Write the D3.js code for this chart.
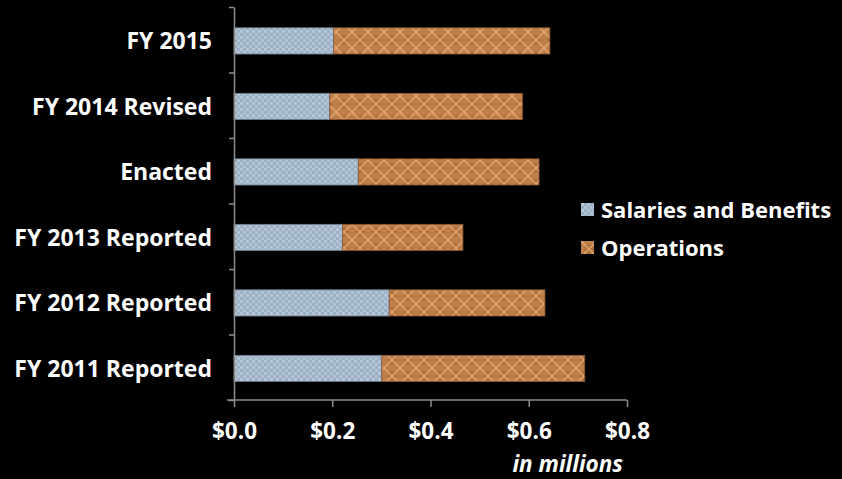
<!DOCTYPE html>
<html>
<head>
<meta charset="utf-8">
<script src="https://cdn.jsdelivr.net/npm/d3@7"></script>
<style>
  html, body { margin: 0; padding: 0; background: #000; }
  svg { display: block; }
  text { font-family: "Open Sans", sans-serif; font-weight: bold; fill: #fff; }
</style>
</head>
<body>
<div id="chart-mount"></div>
<script>
var WIDTH = 842;
var HEIGHT = 479;

var categories = ['FY 2015', 'FY 2014 Revised', 'Enacted', 'FY 2013 Reported', 'FY 2012 Reported', 'FY 2011 Reported'];
var salaries = [0.203, 0.195, 0.253, 0.221, 0.316, 0.301];
var operations = [0.440, 0.392, 0.368, 0.245, 0.317, 0.413];
var seriesNames = ['Salaries and Benefits', 'Operations'];
var xTicks = [0, 0.2, 0.4, 0.6, 0.8];

var $svg = d3.select('#chart-mount').append('svg')
  .attr('width', WIDTH)
  .attr('height', HEIGHT);

var x = d3.scaleLinear().domain([0, 0.8]).range([234, 627]);
var y = d3.scaleBand().domain(categories).range([7, 400]).paddingInner(0.6).paddingOuter(0.3).align(0.53);
var yEdge = d3.scaleLinear().domain([0, categories.length]).range([7, 400]);

// fill patterns for the two series
var defs = $svg.append('defs');

var pBlue = defs.append('pattern')
  .attr('id', 'pat-blue')
  .attr('patternUnits', 'userSpaceOnUse')
  .attr('width', 6).attr('height', 6);
pBlue.append('rect').attr('width', 6).attr('height', 6).attr('fill', '#9db1c6');
pBlue.append('rect').attr('x', 0).attr('y', 0).attr('width', 3).attr('height', 3).attr('fill', '#b0c2d4');
pBlue.append('rect').attr('x', 3).attr('y', 3).attr('width', 3).attr('height', 3).attr('fill', '#b0c2d4');
pBlue.append('circle').attr('cx', 1.5).attr('cy', 1.5).attr('r', 0.8).attr('fill', '#c6d4e2');

var pOrange = defs.append('pattern')
  .attr('id', 'pat-orange')
  .attr('patternUnits', 'userSpaceOnUse')
  .attr('width', 16).attr('height', 16);
pOrange.append('rect').attr('width', 16).attr('height', 16).attr('fill', '#bf7f49');
pOrange.append('circle').attr('cx', 8).attr('cy', 8).attr('r', 4.5).attr('fill', '#b06c36');
pOrange.append('circle').attr('cx', 0).attr('cy', 0).attr('r', 2).attr('fill', '#cf9462');
pOrange.append('path')
  .attr('d', 'M0,0 L16,16 M16,0 L0,16')
  .attr('stroke', '#dca06e')
  .attr('stroke-width', 1.6)
  .attr('fill', 'none');

// bars
var rows = categories.map(function (c, i) {
  return { cat: c, sal: salaries[i], ops: operations[i] };
});

var $bars = $svg.append('g');
$bars.selectAll('rect.sal')
  .data(rows)
  .enter()
    .append('rect')
    .attr('class', 'sal')
    .attr('x', x(0))
    .attr('y', function (d) { return y(d.cat); })
    .attr('width', function (d) { return x(d.sal) - x(0); })
    .attr('height', y.bandwidth())
    .attr('fill', 'url(#pat-blue)')
    .attr('stroke', '#6f7f90')
    .attr('stroke-width', 0.8);

$bars.selectAll('rect.ops')
  .data(rows)
  .enter()
    .append('rect')
    .attr('class', 'ops')
    .attr('x', function (d) { return x(d.sal); })
    .attr('y', function (d) { return y(d.cat); })
    .attr('width', function (d) { return x(d.sal + d.ops) - x(d.sal); })
    .attr('height', y.bandwidth())
    .attr('fill', 'url(#pat-orange)')
    .attr('stroke', '#8a5530')
    .attr('stroke-width', 0.8);

// y axis: line and ticks at band edges
var $yAxis = $svg.append('g')
  .attr('transform', 'translate(234,0)')
  .call(d3.axisLeft(yEdge).tickValues(d3.range(categories.length + 1)).tickFormat('').tickSize(5).tickSizeOuter(0));
$yAxis.selectAll('path, line').attr('stroke', '#8c8c8c').attr('stroke-width', 1.5);

$svg.append('g')
  .selectAll('text')
  .data(categories)
  .enter()
    .append('text')
    .attr('x', 212)
    .attr('y', function (d) { return y(d) + y.bandwidth() / 2; })
    .attr('dy', '0.36em')
    .attr('text-anchor', 'end')
    .style('font-size', '23px')
    .text(function (d) { return d; });

// x axis
var $xAxis = $svg.append('g')
  .attr('transform', 'translate(0,400)')
  .call(d3.axisBottom(x).tickValues(xTicks).tickSize(7).tickSizeOuter(0)
    .tickFormat(function (d) { return '$' + d.toFixed(1); }));
$xAxis.select('.domain').remove();
$xAxis.append('line')
  .attr('x1', 227).attr('x2', x(0.8))
  .attr('y1', 0).attr('y2', 0);
$xAxis.selectAll('line').attr('stroke', '#8c8c8c').attr('stroke-width', 1.5);
$xAxis.selectAll('.tick text')
  .attr('y', 39)
  .attr('dy', 0)
  .style('font-size', '22.5px')
  .style('font-family', '"Open Sans", sans-serif')
  .style('font-weight', 'bold')
  .attr('fill', '#fff');

$svg.append('text')
  .attr('x', 623)
  .attr('y', 472)
  .attr('text-anchor', 'end')
  .style('font-size', '22.5px')
  .style('font-style', 'italic')
  .text('in millions');

// legend
var $legend = $svg.append('g').attr('transform', 'translate(581,203)');
var $item = $legend.selectAll('g')
  .data(seriesNames)
  .enter()
    .append('g')
    .attr('transform', function (d, i) { return 'translate(0,' + (i * 38) + ')'; });
$item.append('rect')
  .attr('width', 13).attr('height', 13)
  .attr('fill', function (d, i) { return i === 0 ? 'url(#pat-blue)' : 'url(#pat-orange)'; });
$item.append('text')
  .attr('x', 20)
  .attr('y', 7)
  .attr('dy', '0.36em')
  .style('font-size', '22px')
  .text(function (d) { return d; });
</script>
</body>
</html>
